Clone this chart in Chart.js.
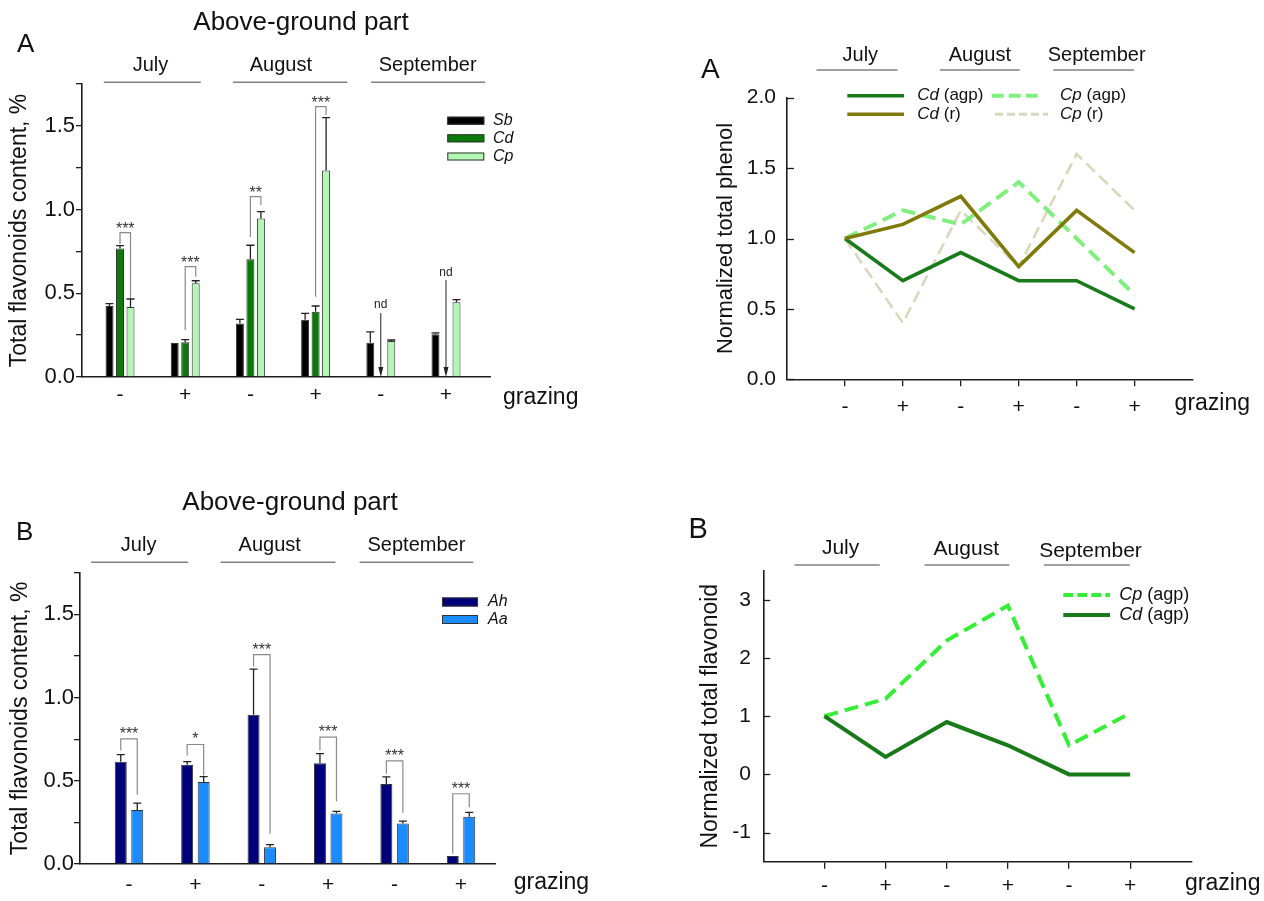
<!DOCTYPE html>
<html><head><meta charset="utf-8">
<script src="https://cdn.jsdelivr.net/npm/chart.js@4.4.1/dist/chart.umd.min.js"></script>
<style>
html,body{margin:0;padding:0;background:#fff;}
#wrap{position:relative;width:1264px;height:901px;overflow:hidden;background:#fff;}
canvas{position:absolute;}
</style></head><body>
<div id="wrap">
<canvas id="c1" width="632" height="440" style="left:0;top:0;width:632px;height:440px"></canvas>
<canvas id="c2" width="632" height="440" style="left:632px;top:0;width:632px;height:440px"></canvas>
<canvas id="c3" width="632" height="461" style="left:0;top:440px;width:632px;height:461px"></canvas>
<canvas id="c4" width="632" height="461" style="left:632px;top:440px;width:632px;height:461px"></canvas>
</div>
<script>
const FONT = '"Liberation Sans", Arial, sans-serif';

// ---------- data ----------
const grazingLabels = ['-', '+', '-', '+', '-', '+'];
const months = ['July', 'August', 'September'];

// Panel A (bars): total flavonoids, %
const sbValues = [0.424, 0.203, 0.319, 0.342, 0.205, 0.255];
const sbErrors = [0.014, 0.000, 0.025, 0.038, 0.064, 0.008];
const cdValues = [0.767, 0.207, 0.703, 0.390, null, null];
const cdErrors = [0.018, 0.016, 0.084, 0.034, null, null];
const cpValues = [0.418, 0.560, 0.946, 1.233, 0.215, 0.446];
const cpErrors = [0.048, 0.015, 0.042, 0.316, 0.006, 0.016];

// Panel B (bars)
const ahValues = [0.615, 0.597, 0.897, 0.605, 0.480, 0.048];
const ahErrors = [0.042, 0.018, 0.274, 0.058, 0.043, 0.000];
const aaValues = [0.324, 0.492, 0.100, 0.304, 0.244, 0.284];
const aaErrors = [0.042, 0.033, 0.016, 0.012, 0.014, 0.026];

// significance brackets: group, dataset a, dataset b, top, leg bottoms, label
const sigA = [
  {g:0, a:1, b:2, top:0.862, la:0.795, lb:0.472, label:'***'},
  {g:1, a:1, b:2, top:0.659, la:0.281, lb:0.599, label:'***'},
  {g:2, a:1, b:2, top:1.077, la:0.836, lb:1.027, label:'**'},
  {g:3, a:1, b:2, top:1.615, la:0.480, lb:1.565, label:'***'}
];
const ndA = [ {g:4, top:0.382, text:0.43}, {g:5, top:0.58, text:0.623} ];
const sigB = [
  {g:0, a:0, b:1, top:0.752, la:0.682, lb:0.416, label:'***'},
  {g:1, a:0, b:1, top:0.718, la:0.652, lb:0.532, label:'*'},
  {g:2, a:0, b:1, top:1.258, la:1.186, lb:0.181, label:'***'},
  {g:3, a:0, b:1, top:0.762, la:0.682, lb:0.377, label:'***'},
  {g:4, a:0, b:1, top:0.620, la:0.542, lb:0.308, label:'***'},
  {g:5, a:0, b:1, top:0.422, la:0.061, lb:0.341, label:'***'}
];

// Line panels: normalized values
const cdAgpPhenol = [1.0, 0.7, 0.9, 0.7, 0.7, 0.5];
const cdRPhenol   = [1.0, 1.1, 1.3, 0.8, 1.2, 0.9];
const cpAgpPhenol = [1.0, 1.2, 1.1, 1.4, 1.0, 0.6];
const cpRPhenol   = [1.0, 0.4, 1.2, 0.8, 1.6, 1.2];
const cpAgpFlav   = [1.0, 1.3, 2.3, 2.9, 0.5, 1.05];
const cdAgpFlav   = [1.0, 0.3, 0.9, 0.5, 0.0, 0.0];

// ---------- helpers ----------
const toXY = arr => arr.map((v, i) => ({x: i, y: v}));
const C = {
  axis: '#1c1c1c', text: '#111', month: '#808080',
  sb: '#000000', cd: '#0a7a0a', cp: '#b4f7b4', ah: '#00007a', aa: '#1a8cff',
  lCdAgp: '#197a19', lCdR: '#7f7a0a', lCpAgp: '#80ef80', lCpR: '#d8d8bc', lCpAgpF: '#36ee36'
};

function decorPlugin(spec) {
  return {
    id: 'decor',
    afterDraw(chart) {
      const ctx = chart.ctx;
      ctx.save();
      (spec.lines || []).forEach(l => {
        ctx.strokeStyle = l.color || C.month; ctx.lineWidth = l.width || 1.5;
        ctx.setLineDash(l.dash || []);
        ctx.beginPath(); ctx.moveTo(l.x1, l.y1); ctx.lineTo(l.x2, l.y2); ctx.stroke();
      });
      ctx.setLineDash([]);
      (spec.boxes || []).forEach(b => {
        ctx.fillStyle = b.fill; ctx.fillRect(b.x, b.y, b.w, b.h);
        ctx.strokeStyle = '#333'; ctx.lineWidth = 1;
        ctx.strokeRect(b.x + 0.5, b.y + 0.5, b.w - 1, b.h - 1);
      });
      (spec.texts || []).forEach(t => {
        const segs = t.segs || [{t: t.t, italic: t.italic}];
        const fonts = segs.map(s => (s.italic ? 'italic ' : '') + t.size + 'px ' + FONT);
        const widths = segs.map((s, i) => { ctx.font = fonts[i]; return ctx.measureText(s.t).width; });
        const total = widths.reduce((a, b) => a + b, 0);
        let x = t.x;
        if (t.align === 'center') x -= total / 2; else if (t.align === 'right') x -= total;
        ctx.textAlign = 'left'; ctx.textBaseline = t.baseline || 'alphabetic';
        ctx.fillStyle = t.color || C.text;
        segs.forEach((s, i) => { ctx.font = fonts[i]; ctx.fillText(s.t, x, t.y); x += widths[i]; });
      });
      ctx.restore();
    }
  };
}

const errorBarPlugin = {
  id: 'errbars',
  afterDatasetsDraw(chart) {
    const ys = chart.scales.y, ctx = chart.ctx;
    ctx.save();
    chart.data.datasets.forEach((ds, di) => {
      if (!ds.errors) return;
      const meta = chart.getDatasetMeta(di);
      meta.data.forEach((el, i) => {
        const v = ds.data[i].y, e = ds.errors[i];
        if (v == null || e == null || e <= 0) return;
        const x = el.x, y0 = ys.getPixelForValue(v), y1 = ys.getPixelForValue(v + e);
        ctx.strokeStyle = '#222'; ctx.lineWidth = 1.3;
        ctx.beginPath(); ctx.moveTo(x, y0); ctx.lineTo(x, y1);
        ctx.moveTo(x - 4, y1); ctx.lineTo(x + 4, y1); ctx.stroke();
      });
    });
    ctx.restore();
  }
};

function sigPlugin(spec) {
  return {
    id: 'sig',
    afterDatasetsDraw(chart) {
      const ctx = chart.ctx, ys = chart.scales.y;
      const xOf = (d, g) => chart.getDatasetMeta(d).data[g].x;
      ctx.save();
      spec.brackets.forEach(b => {
        const xa = xOf(b.a, b.g), xb = xOf(b.b, b.g);
        const yt = ys.getPixelForValue(b.top), ya = ys.getPixelForValue(b.la), yb = ys.getPixelForValue(b.lb);
        ctx.strokeStyle = '#8a8a8a'; ctx.lineWidth = 1.2;
        ctx.beginPath(); ctx.moveTo(xa, ya); ctx.lineTo(xa, yt); ctx.lineTo(xb, yt); ctx.lineTo(xb, yb); ctx.stroke();
        ctx.fillStyle = '#333'; ctx.font = spec.size + 'px ' + FONT;
        ctx.textAlign = 'center'; ctx.textBaseline = 'alphabetic';
        ctx.fillText(b.label, (xa + xb) / 2, yt + spec.dy);
      });
      (spec.nd || []).forEach(n => {
        const x = (xOf(0, n.g) + xOf(2, n.g)) / 2;
        const y0 = ys.getPixelForValue(0), yt = ys.getPixelForValue(n.top);
        ctx.strokeStyle = '#222'; ctx.lineWidth = 1;
        ctx.beginPath(); ctx.moveTo(x, yt); ctx.lineTo(x, y0 - 8); ctx.stroke();
        ctx.fillStyle = '#222';
        ctx.beginPath(); ctx.moveTo(x - 2.5, y0 - 10); ctx.lineTo(x + 2.5, y0 - 10); ctx.lineTo(x, y0); ctx.closePath(); ctx.fill();
        ctx.font = '12px ' + FONT; ctx.textAlign = 'center'; ctx.textBaseline = 'middle'; ctx.fillStyle = '#222';
        ctx.fillText('nd', x, ys.getPixelForValue(n.text));
      });
      ctx.restore();
    }
  };
}

const inwardYTicks = {
  id: 'inticks',
  afterDraw(chart) {
    const ys = chart.scales.y, ctx = chart.ctx, left = chart.chartArea.left;
    ctx.save(); ctx.strokeStyle = C.axis; ctx.lineWidth = 1.3;
    ys.ticks.forEach(t => {
      const y = Math.round(ys.getPixelForValue(t.value)) + 0.5;
      ctx.beginPath(); ctx.moveTo(left, y); ctx.lineTo(left + 7, y); ctx.stroke();
    });
    ctx.restore();
  }
};

function barChart(canvas, o) {
  return new Chart(canvas, {
    type: 'bar',
    data: { datasets: o.datasets },
    options: {
      responsive: false, animation: false, devicePixelRatio: 1,
      layout: { padding: o.padding },
      plugins: { legend: { display: false }, tooltip: { enabled: false } },
      scales: {
        x: {
          type: 'linear', min: o.xmin, max: o.xmax, offset: false,
          afterFit: s => { s.height = o.xh; },
          afterBuildTicks: s => { s.ticks = grazingLabels.map((_, i) => ({ value: i })); },
          ticks: { callback: v => grazingLabels[v] ?? '', autoSkip: false, maxRotation: 0,
                   font: { size: 21, family: FONT }, color: C.text, padding: o.xpad },
          grid: { display: true, drawOnChartArea: false, drawTicks: false, offset: false },
          border: { color: C.axis, width: 1.6 }
        },
        y: {
          min: 0, max: 1.75,
          afterFit: s => { s.width = o.yw; },
          ticks: { stepSize: 0.25, autoSkip: false,
                   callback: v => (Math.round(v * 100) % 50 === 0 ? v.toFixed(1) : ''),
                   font: { size: 22, family: FONT }, color: C.text, padding: o.ypad },
          grid: { display: true, drawOnChartArea: false, drawTicks: true, tickLength: 6, color: C.axis, lineWidth: 1.3 },
          border: { color: C.axis, width: 1.6 },
          title: { display: true, text: 'Total flavonoids content, %', color: C.text,
                   font: { size: 23, family: FONT }, padding: { top: o.tpad, bottom: 0 } }
        }
      }
    },
    plugins: [errorBarPlugin, sigPlugin(o.sig), decorPlugin(o.decor)]
  });
}

function lineChart(canvas, o) {
  return new Chart(canvas, {
    type: 'line',
    data: { datasets: o.datasets },
    options: {
      responsive: false, animation: false, devicePixelRatio: 1,
      layout: { padding: o.padding },
      plugins: { legend: { display: false }, tooltip: { enabled: false } },
      elements: { point: { radius: 0 }, line: { tension: 0, borderJoinStyle: 'miter', borderCapStyle: 'butt' } },
      scales: {
        x: {
          type: 'linear', min: -1, max: 6, offset: false,
          afterFit: s => { s.height = o.xh; },
          afterBuildTicks: s => { s.ticks = grazingLabels.map((_, i) => ({ value: i })); },
          ticks: { callback: v => grazingLabels[v] ?? '', autoSkip: false, maxRotation: 0,
                   font: { size: 21, family: FONT }, color: C.text, padding: o.xpad },
          grid: { display: true, drawOnChartArea: false, drawTicks: true, tickLength: 7, color: C.axis, lineWidth: 1.3 },
          border: { color: C.axis, width: 1.6 }
        },
        y: {
          min: o.ymin, max: o.ymax,
          afterFit: s => { s.width = o.yw; },
          afterBuildTicks: s => { s.ticks = o.yticks.map(v => ({ value: v })); },
          ticks: { autoSkip: false, callback: o.yfmt, font: { size: 21, family: FONT }, color: C.text, padding: o.ypad },
          grid: { display: true, drawOnChartArea: false, drawTicks: false },
          border: { color: C.axis, width: 1.6 },
          title: { display: true, text: o.ytitle, color: C.text,
                   font: { size: o.tsize, family: FONT }, padding: { top: o.tpad, bottom: 0 } }
        }
      }
    },
    plugins: [inwardYTicks, decorPlugin(o.decor)]
  });
}

const barStyle = (color, cat, bar) => ({ backgroundColor: color, borderColor: '#333', borderWidth: 1,
  categoryPercentage: cat, barPercentage: bar });

// ---------- Panel A (bars) ----------
barChart(document.getElementById('c1'), {
  padding: { left: 0, top: 84, right: 142, bottom: 23 },
  xmin: -0.583, xmax: 5.675, xh: 40, yw: 82, xpad: 5.4, ypad: 1, tpad: 6.2,
  datasets: [
    Object.assign({ label: 'Sb', data: toXY(sbValues), errors: sbErrors }, barStyle(C.sb, 0.483, 0.76)),
    Object.assign({ label: 'Cd', data: toXY(cdValues), errors: cdErrors }, barStyle(C.cd, 0.483, 0.76)),
    Object.assign({ label: 'Cp', data: toXY(cpValues), errors: cpErrors }, barStyle(C.cp, 0.483, 0.76))
  ],
  sig: { brackets: sigA, nd: ndA, size: 16, dy: 1 },
  decor: {
    texts: [
      { t: 'Above-ground part', x: 301, y: 30, size: 26, align: 'center' },
      { t: 'A', x: 17, y: 52, size: 26 },
      { t: months[0], x: 150.5, y: 71, size: 20, align: 'center' },
      { t: months[1], x: 280.8, y: 71, size: 20, align: 'center' },
      { t: months[2], x: 427.7, y: 71, size: 20, align: 'center' },
      { t: 'grazing', x: 503, y: 404, size: 23 },
      { t: 'Sb', x: 493, y: 120.5, size: 16, italic: true, baseline: 'middle' },
      { t: 'Cd', x: 493, y: 138.3, size: 16, italic: true, baseline: 'middle' },
      { t: 'Cp', x: 493, y: 156.3, size: 16, italic: true, baseline: 'middle' }
    ],
    lines: [
      { x1: 103.8, y1: 82.3, x2: 200.8, y2: 82.3 },
      { x1: 232.9, y1: 82.3, x2: 347.3, y2: 82.3 },
      { x1: 371.1, y1: 82.3, x2: 485.1, y2: 82.3 }
    ],
    boxes: [
      { x: 447.3, y: 116.7, w: 37, h: 8, fill: C.sb },
      { x: 447.3, y: 134.3, w: 37, h: 8, fill: C.cd },
      { x: 447.3, y: 152.5, w: 37, h: 8, fill: C.cp }
    ]
  }
});

// ---------- Panel B (bars) ----------
barChart(document.getElementById('c3'), {
  padding: { left: 0, top: 132.7, right: 137, bottom: 7 },
  xmin: -0.738, xmax: 5.512, xh: 30, yw: 80, xpad: 9.1, ypad: 0, tpad: 7.2,
  datasets: [
    Object.assign({ label: 'Ah', data: toXY(ahValues), errors: ahErrors }, barStyle(C.ah, 0.497, 0.727)),
    Object.assign({ label: 'Aa', data: toXY(aaValues), errors: aaErrors }, barStyle(C.aa, 0.497, 0.727))
  ],
  sig: { brackets: sigB, nd: [], size: 16, dy: 0 },
  decor: {
    texts: [
      { t: 'Above-ground part', x: 290, y: 70, size: 26, align: 'center' },
      { t: 'B', x: 16, y: 100, size: 26 },
      { t: months[0], x: 138.6, y: 111, size: 20, align: 'center' },
      { t: months[1], x: 269.7, y: 111, size: 20, align: 'center' },
      { t: months[2], x: 416.4, y: 111, size: 20, align: 'center' },
      { t: 'grazing', x: 513.7, y: 448.7, size: 23 },
      { t: 'Ah', x: 488, y: 162, size: 16, italic: true, baseline: 'middle' },
      { t: 'Aa', x: 488, y: 179.5, size: 16, italic: true, baseline: 'middle' }
    ],
    lines: [
      { x1: 91.1, y1: 122.3, x2: 188.1, y2: 122.3 },
      { x1: 220.6, y1: 122.3, x2: 335.4, y2: 122.3 },
      { x1: 359.6, y1: 122.3, x2: 473.3, y2: 122.3 }
    ],
    boxes: [
      { x: 442, y: 157.5, w: 36, h: 9, fill: C.ah },
      { x: 442, y: 175, w: 36, h: 9, fill: C.aa }
    ]
  }
});

// ---------- Panel A (lines) ----------
lineChart(document.getElementById('c2'), {
  padding: { left: 0, top: 97.7, right: 71.5, bottom: 20.7 },
  xh: 40, yw: 155, xpad: 8.1, ypad: 11, tpad: 80.8, tsize: 22,
  ymin: 0, ymax: 2, yticks: [0, 0.5, 1, 1.5, 2], yfmt: v => v.toFixed(1),
  ytitle: 'Normalized total phenol',
  datasets: [
    { label: 'Cd (r)', data: toXY(cdRPhenol), borderColor: C.lCdR, borderWidth: 3.6, fill: false },
    { label: 'Cd (agp)', data: toXY(cdAgpPhenol), borderColor: C.lCdAgp, borderWidth: 3.6, fill: false },
    { label: 'Cp (agp)', data: toXY(cpAgpPhenol), borderColor: C.lCpAgp, borderWidth: 4, borderDash: [14, 7], fill: false },
    { label: 'Cp (r)', data: toXY(cpRPhenol), borderColor: C.lCpR, borderWidth: 2.6, borderDash: [12, 6], fill: false }
  ],
  decor: {
    texts: [
      { t: 'A', x: 69, y: 78, size: 28 },
      { t: months[0], x: 228.3, y: 61, size: 20, align: 'center' },
      { t: months[1], x: 347.8, y: 61, size: 20, align: 'center' },
      { t: months[2], x: 464.7, y: 61, size: 20, align: 'center' },
      { t: 'grazing', x: 542.6, y: 410, size: 23 },
      { segs: [{ t: 'Cd', italic: true }, { t: ' (agp)' }], x: 285.3, y: 95.7, size: 17, baseline: 'middle' },
      { segs: [{ t: 'Cd', italic: true }, { t: ' (r)' }], x: 285.3, y: 114.3, size: 17, baseline: 'middle' },
      { segs: [{ t: 'Cp', italic: true }, { t: ' (agp)' }], x: 428, y: 95.7, size: 17, baseline: 'middle' },
      { segs: [{ t: 'Cp', italic: true }, { t: ' (r)' }], x: 428, y: 114.3, size: 17, baseline: 'middle' }
    ],
    lines: [
      { x1: 184.5, y1: 70, x2: 265.5, y2: 70 },
      { x1: 307.9, y1: 70, x2: 387.7, y2: 70 },
      { x1: 421.3, y1: 70, x2: 501.9, y2: 70 },
      { x1: 215.3, y1: 95.7, x2: 272, y2: 95.7, color: C.lCdAgp, width: 3.6 },
      { x1: 215.3, y1: 114.3, x2: 272, y2: 114.3, color: C.lCdR, width: 3.6 },
      { x1: 359.7, y1: 95.7, x2: 408, y2: 95.7, color: C.lCpAgp, width: 4, dash: [12, 5] },
      { x1: 363, y1: 114.3, x2: 416, y2: 114.3, color: C.lCpR, width: 3, dash: [8, 4] }
    ]
  }
});

// ---------- Panel B (lines) ----------
lineChart(document.getElementById('c4'), {
  padding: { left: 0, top: 130.7, right: 72.7, bottom: 9.3 },
  xh: 30, yw: 131.3, xpad: 5.4, ypad: 12.4, tpad: 64.6, tsize: 23,
  ymin: -1.5, ymax: 3.5, yticks: [-1, 0, 1, 2, 3], yfmt: v => String(v),
  ytitle: 'Normalized total flavonoid',
  datasets: [
    { label: 'Cd (agp)', data: toXY(cdAgpFlav), borderColor: C.lCdAgp, borderWidth: 4, fill: false },
    { label: 'Cp (agp)', data: toXY(cpAgpFlav), borderColor: C.lCpAgpF, borderWidth: 4, borderDash: [14, 7], fill: false }
  ],
  decor: {
    texts: [
      { t: 'B', x: 56.5, y: 98.3, size: 29 },
      { t: months[0], x: 208.6, y: 114, size: 21, align: 'center' },
      { t: months[1], x: 334.3, y: 115, size: 21, align: 'center' },
      { t: months[2], x: 458.5, y: 117, size: 21, align: 'center' },
      { t: 'grazing', x: 553, y: 450, size: 23 },
      { segs: [{ t: 'Cp', italic: true }, { t: ' (agp)' }], x: 487.3, y: 155, size: 18, baseline: 'middle' },
      { segs: [{ t: 'Cd', italic: true }, { t: ' (agp)' }], x: 487.3, y: 175, size: 18, baseline: 'middle' }
    ],
    lines: [
      { x1: 162.5, y1: 125, x2: 247.7, y2: 125 },
      { x1: 292.5, y1: 125, x2: 377.3, y2: 125 },
      { x1: 411.8, y1: 125, x2: 497.8, y2: 125 },
      { x1: 431.3, y1: 155, x2: 478, y2: 155, color: C.lCpAgpF, width: 4, dash: [10, 4] },
      { x1: 431.3, y1: 175, x2: 478, y2: 175, color: C.lCdAgp, width: 4 }
    ]
  }
});
</script>
</body></html>
